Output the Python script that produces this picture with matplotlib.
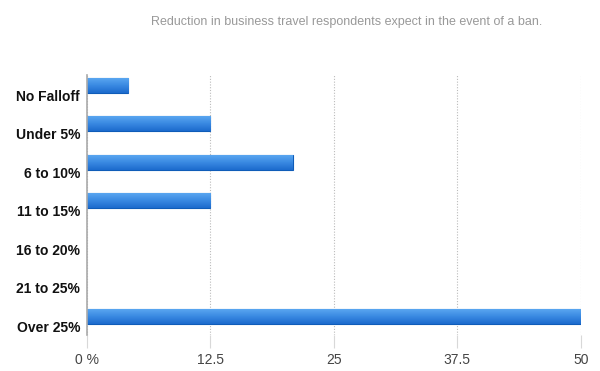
import numpy as np
import matplotlib
matplotlib.use("Agg")
import matplotlib.pyplot as plt

plt.rcParams['font.family'] = ['Liberation Sans', 'DejaVu Sans']

categories = ['No Falloff', 'Under 5%', '6 to 10%', '11 to 15%',
              '16 to 20%', '21 to 25%', 'Over 25%']
values = [4.17, 12.5, 20.83, 12.5, 0, 0, 50]
xticks = [0, 12.5, 25, 37.5, 50]
xticklabels = ['0 %', '12.5', '25', '37.5', '50']
title = 'Reduction in business travel respondents expect in the event of a ban.'

fig = plt.figure(figsize=(6, 3.71), dpi=100)
ax = fig.add_axes([0.145, 0.097, 0.823, 0.701])

y = np.arange(len(categories))
bars = ax.barh(y, values, height=0.39, color='#3a8ae0', edgecolor='#0f5cb8',
               linewidth=0.8, zorder=3)

# vertical gradient inside each bar
grad = np.linspace(0, 1, 64).reshape(-1, 1)
cmap = matplotlib.colors.LinearSegmentedColormap.from_list(
    'g', ['#5eaaf2', '#3b8be3', '#1c6bcd'])
for b in bars:
    if b.get_width() <= 0:
        b.set_visible(False)
        continue
    x0, y0 = b.get_x(), b.get_y()
    w, h = b.get_width(), b.get_height()
    im = ax.imshow(grad, cmap=cmap, aspect='auto', zorder=3.5,
                   extent=(x0, x0 + w, y0 + h, y0), interpolation='bilinear')
    im.set_clip_path(b)

ax.set_xlim(0, 50)
ax.set_ylim(6.49, -0.27)

ax.set_xticks(xticks)
ax.set_xticklabels(xticklabels, fontsize=10, color='#444444')
# labels sit a little below the bar centres, as in the original
ax.set_yticks(y + 0.26)
ax.set_yticklabels(categories, fontsize=10, fontweight='bold', color='#111111')

ax.tick_params(axis='y', length=0, pad=5)
ax.tick_params(axis='x', length=9, color='#d8d8d8', width=0.8, pad=4)

ax.grid(axis='x', color='#bbbbbb', linestyle=(0, (1, 1.5)), linewidth=0.8, zorder=1)
for s in ['top', 'right', 'bottom']:
    ax.spines[s].set_visible(False)
ax.spines['left'].set_color('#aaaaaa')
ax.spines['left'].set_linewidth(1.2)
ax.spines['left'].set_zorder(4)

fig.text(0.578, 0.94, title, ha='center', va='center', fontsize=9.0, color='#999999')

fig.savefig('out.png', dpi=100)
